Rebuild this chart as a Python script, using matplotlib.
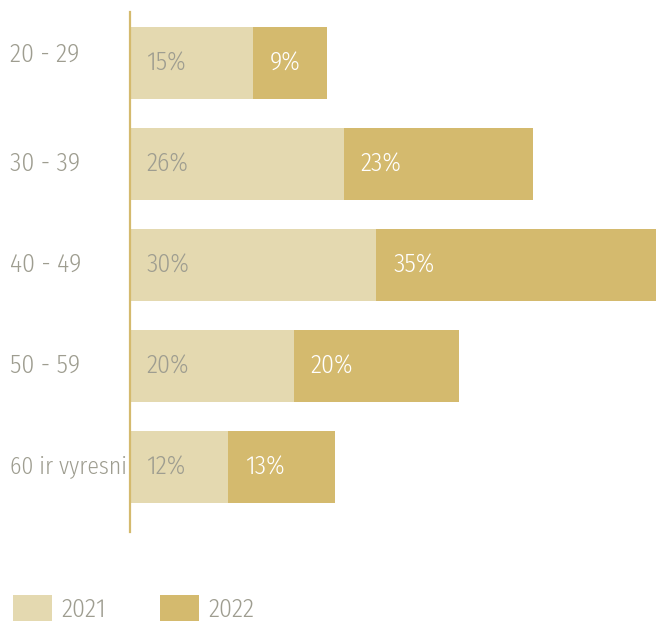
import matplotlib
matplotlib.use('Agg')
from matplotlib import pyplot as plt
from matplotlib.transforms import ScaledTranslation

plt.rcParams['font.family'] = ['Fira Sans Condensed', 'DejaVu Sans']
plt.rcParams['font.stretch'] = 'condensed'
plt.rcParams['font.weight'] = 300

# data
groups = ['20 - 29', '30 - 39', '40 - 49', '50 - 59', '60 ir vyresni']
v2021 = [15, 26, 30, 20, 12]
v2022 = [9, 23, 35, 20, 13]
years = ['2021', '2022']

c_light = '#E4D9B0'
c_dark = '#D4BA6E'
c_text = '#9E9D90'
fs = 18.5

fig = plt.figure(figsize=(6.56, 6.22), dpi=100)
# axes from x=129.5..656, y=12..532 (pixels)
ax = fig.add_axes([129.5/656, 1-532/622, (656-129.5)/656, 520/622])

ypos = list(range(len(groups)))
b1 = ax.barh(ypos, v2021, height=0.713, color=c_light, label=years[0])
b2 = ax.barh(ypos, v2022, left=v2021, height=0.713, color=c_dark, label=years[1])

for i in ypos:
    ax.annotate('%d%%' % v2021[i], (0, i), xytext=(12, 0), textcoords='offset points',
                ha='left', va='center', fontsize=fs, color=c_text)
    ax.annotate('%d%%' % v2022[i], (v2021[i], i), xytext=(12, 0), textcoords='offset points',
                ha='left', va='center', fontsize=fs, color='white')

ax.set_xlim(0, 63.95)
ax.set_ylim(4.644, -0.505)
ax.set_yticks(ypos)
ax.set_yticklabels(groups, fontsize=fs, color=c_text, ha='left')
ax.tick_params(axis='y', length=0, pad=86)
# labels sit a little higher than bar centres, the first one even more
labs = ax.get_yticklabels()
for k, lab in enumerate(labs):
    dy = 11 if k == 0 else 3
    lab.set_transform(lab.get_transform() + ScaledTranslation(0, dy/100, fig.dpi_scale_trans))
labs[-1].set_fontsize(17)
ax.set_xticks([])
for s in ['top', 'right', 'bottom']:
    ax.spines[s].set_visible(False)
ax.spines['left'].set_color(c_dark)
ax.spines['left'].set_linewidth(1.6)

leg = fig.legend(handles=[b1, b2], loc='lower left', bbox_to_anchor=(13/656, 0.0),
                 ncol=2, frameon=False, fontsize=fs, handlelength=1.5, handleheight=1.15,
                 handletextpad=0.4, columnspacing=2.08, borderpad=0, borderaxespad=0)
for t in leg.get_texts():
    t.set_color(c_text)

fig.savefig('out.png', dpi=100)
